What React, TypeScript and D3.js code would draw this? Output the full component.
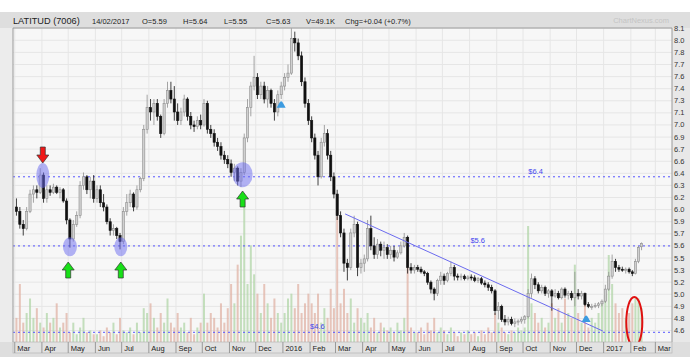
import * as d3 from 'd3';
import React from 'react';

// [open, high, low, close, volume(K)] - roughly 8 bars per month
type Bar = [number, number, number, number, number];

const mar15: Bar[] = [
    [6.05, 6.15, 5.95, 6.0, 500], [6.0, 6.05, 5.8, 5.85, 1200], [5.85, 5.9, 5.72, 5.8, 400], [5.8, 6.05, 5.78, 6.0, 600],
    [6.0, 6.25, 5.98, 6.2, 900], [6.2, 6.3, 6.1, 6.25, 500], [6.25, 6.3, 6.15, 6.22, 700], [6.22, 6.5, 6.2, 6.42, 400],
];
const apr15: Bar[] = [
    [6.42, 6.45, 6.1, 6.15, 300], [6.15, 6.3, 6.1, 6.25, 600], [6.25, 6.3, 6.18, 6.22, 400], [6.22, 6.32, 6.2, 6.28, 500],
    [6.28, 6.3, 6.2, 6.22, 800], [6.22, 6.28, 6.15, 6.25, 300], [6.25, 6.27, 6.1, 6.12, 400], [6.12, 6.15, 5.85, 5.9, 600],
];
const may15: Bar[] = [
    [5.9, 5.92, 5.58, 5.68, 200], [5.68, 5.9, 5.65, 5.85, 400], [5.85, 6.0, 5.82, 5.95, 160], [5.95, 6.35, 5.92, 6.3, 300],
    [6.3, 6.45, 6.25, 6.4, 500], [6.4, 6.42, 6.2, 6.25, 200], [6.25, 6.4, 6.15, 6.35, 240], [6.35, 6.42, 6.1, 6.15, 160],
];
const jun15: Bar[] = [
    [6.15, 6.3, 6.1, 6.25, 160], [6.25, 6.3, 6.05, 6.1, 240], [6.1, 6.2, 6.0, 6.05, 120], [6.05, 6.08, 5.85, 5.88, 300],
    [5.88, 5.92, 5.72, 5.78, 200], [5.78, 5.85, 5.72, 5.8, 400], [5.8, 5.82, 5.68, 5.72, 160], [5.72, 5.75, 5.56, 5.65, 500],
];
const jul15: Bar[] = [
    [5.65, 6.05, 5.62, 6.0, 240], [6.0, 6.2, 5.95, 6.1, 200], [6.1, 6.25, 6.05, 6.2, 300], [6.2, 6.22, 6.0, 6.05, 160],
    [6.05, 6.3, 6.02, 6.25, 400], [6.25, 6.4, 6.22, 6.38, 200], [6.38, 7.0, 6.35, 6.95, 700], [6.95, 7.35, 6.9, 7.2, 600],
];
const aug15: Bar[] = [
    [7.2, 7.3, 7.05, 7.15, 800], [7.15, 7.3, 7.0, 7.25, 500], [7.25, 7.3, 7.05, 7.1, 300], [7.1, 7.12, 6.85, 6.9, 600],
    [6.9, 7.3, 6.88, 7.25, 400], [7.25, 7.5, 7.2, 7.4, 900], [7.4, 7.5, 7.25, 7.3, 400], [7.3, 7.45, 7.05, 7.15, 300],
];
const sep15: Bar[] = [
    [7.15, 7.25, 7.0, 7.05, 600], [7.05, 7.2, 7.0, 7.15, 300], [7.15, 7.35, 7.1, 7.3, 400], [7.3, 7.32, 7.05, 7.1, 200],
    [7.1, 7.15, 6.95, 7.0, 500], [7.0, 7.05, 6.92, 6.98, 160], [6.98, 7.1, 6.95, 7.05, 300], [7.05, 7.12, 6.95, 7.0, 400],
];
const oct15: Bar[] = [
    [7.0, 7.3, 6.98, 7.25, 1000], [7.25, 7.28, 6.9, 6.95, 400], [6.95, 7.0, 6.85, 6.9, 600], [6.9, 6.95, 6.75, 6.8, 500],
    [6.8, 6.85, 6.7, 6.75, 300], [6.75, 6.8, 6.6, 6.65, 800], [6.65, 6.7, 6.55, 6.6, 400], [6.6, 6.65, 6.5, 6.55, 700],
];
const nov15: Bar[] = [
    [6.55, 6.6, 6.4, 6.45, 1200], [6.45, 6.55, 6.35, 6.5, 800], [6.5, 6.52, 6.3, 6.35, 1600], [6.35, 6.5, 6.28, 6.45, 2200],
    [6.45, 6.9, 6.42, 6.85, 2900], [6.85, 7.3, 6.8, 7.2, 1200], [7.2, 7.5, 7.1, 7.45, 2000], [7.45, 7.8, 7.4, 7.55, 1400],
];
const dec15: Bar[] = [
    [7.55, 7.6, 7.3, 7.35, 1000], [7.35, 7.5, 7.3, 7.45, 600], [7.45, 7.5, 7.25, 7.3, 1200], [7.3, 7.45, 7.2, 7.4, 800],
    [7.4, 7.42, 7.2, 7.25, 500], [7.25, 7.3, 7.05, 7.15, 900], [7.15, 7.4, 7.1, 7.35, 600], [7.35, 7.5, 7.3, 7.45, 400],
];
const jan16: Bar[] = [
    [7.45, 7.6, 7.4, 7.55, 600], [7.55, 7.7, 7.5, 7.6, 900], [7.6, 8.12, 7.58, 8.0, 1000], [8.0, 8.08, 7.85, 7.95, 700],
    [7.95, 8.0, 7.75, 7.8, 1200], [7.8, 7.85, 7.45, 7.5, 600], [7.5, 7.55, 7.2, 7.25, 800], [7.25, 7.3, 7.0, 7.05, 1000],
];
const feb16: Bar[] = [
    [7.05, 7.1, 6.8, 6.85, 800], [6.85, 6.9, 6.6, 6.65, 600], [6.65, 6.7, 6.3, 6.4, 1000], [6.4, 6.85, 6.38, 6.8, 400],
    [6.8, 7.0, 6.75, 6.9, 700], [6.9, 6.95, 6.6, 6.65, 500], [6.65, 6.7, 6.35, 6.4, 1100], [6.4, 6.45, 6.15, 6.2, 700],
];
const mar16: Bar[] = [
    [6.2, 6.25, 5.9, 5.95, 2600], [5.95, 6.0, 5.7, 5.75, 800], [5.75, 5.8, 5.3, 5.4, 1100], [5.4, 5.45, 5.2, 5.35, 600],
    [5.35, 5.8, 5.32, 5.75, 900], [5.75, 5.95, 5.7, 5.85, 400], [5.85, 5.88, 5.25, 5.35, 700], [5.35, 5.45, 5.28, 5.4, 500],
];
const apr16: Bar[] = [
    [5.4, 5.5, 5.3, 5.45, 400], [5.45, 5.9, 5.42, 5.8, 600], [5.8, 5.95, 5.55, 5.6, 300], [5.6, 5.7, 5.45, 5.5, 500],
    [5.5, 5.68, 5.45, 5.62, 200], [5.62, 5.65, 5.48, 5.55, 400], [5.55, 5.65, 5.45, 5.58, 300], [5.58, 5.62, 5.45, 5.5, 240],
];
const may16: Bar[] = [
    [5.5, 5.6, 5.45, 5.55, 300], [5.55, 5.6, 5.42, 5.47, 200], [5.47, 5.55, 5.45, 5.52, 400], [5.52, 5.65, 5.5, 5.6, 240],
    [5.6, 5.75, 5.58, 5.7, 500], [5.7, 5.72, 5.28, 5.35, 1800], [5.35, 5.4, 5.28, 5.32, 300], [5.32, 5.38, 5.28, 5.35, 200],
];
const jun16: Bar[] = [
    [5.35, 5.38, 5.3, 5.33, 200], [5.33, 5.36, 5.28, 5.3, 300], [5.3, 5.32, 5.25, 5.28, 160], [5.28, 5.3, 5.15, 5.18, 400],
    [5.18, 5.2, 5.05, 5.1, 240], [5.1, 5.12, 4.97, 5.05, 500], [5.05, 5.22, 5.02, 5.2, 200], [5.2, 5.3, 5.15, 5.25, 300],
];
const jul16: Bar[] = [
    [5.25, 5.28, 5.15, 5.2, 240], [5.2, 5.3, 5.18, 5.28, 160], [5.28, 5.42, 5.25, 5.35, 300], [5.35, 5.38, 5.2, 5.25, 200],
    [5.25, 5.28, 5.2, 5.24, 120], [5.24, 5.28, 5.2, 5.25, 200], [5.25, 5.27, 5.2, 5.22, 160], [5.22, 5.26, 5.2, 5.24, 240],
];
const aug16: Bar[] = [
    [5.24, 5.27, 5.2, 5.23, 160], [5.23, 5.26, 5.18, 5.2, 200], [5.2, 5.24, 5.17, 5.22, 120], [5.22, 5.24, 5.15, 5.17, 240],
    [5.17, 5.2, 5.12, 5.15, 160], [5.15, 5.18, 5.08, 5.12, 300], [5.12, 5.15, 5.05, 5.08, 200], [5.08, 5.1, 4.8, 4.85, 600],
];
const sep16: Bar[] = [
    [4.85, 4.95, 4.75, 4.9, 400], [4.9, 4.92, 4.72, 4.75, 300], [4.75, 4.8, 4.68, 4.72, 200], [4.72, 4.78, 4.68, 4.75, 160],
    [4.75, 4.78, 4.68, 4.7, 240], [4.7, 4.76, 4.66, 4.72, 200], [4.72, 4.75, 4.68, 4.73, 300], [4.73, 4.78, 4.7, 4.75, 240],
];
const oct16: Bar[] = [
    [4.75, 4.8, 4.7, 4.78, 300], [4.78, 5.1, 4.76, 5.05, 2400], [5.05, 5.28, 5.0, 5.22, 800], [5.22, 5.25, 5.1, 5.15, 600],
    [5.15, 5.18, 5.05, 5.08, 400], [5.08, 5.15, 5.05, 5.12, 500], [5.12, 5.14, 5.02, 5.05, 300], [5.05, 5.1, 5.0, 5.08, 400],
];
const nov16: Bar[] = [
    [5.08, 5.1, 4.85, 5.02, 800], [5.02, 5.1, 5.0, 5.05, 500], [5.05, 5.08, 4.98, 5.0, 700], [5.0, 5.12, 4.98, 5.1, 400],
    [5.1, 5.12, 5.0, 5.03, 900], [5.03, 5.08, 4.98, 5.05, 600], [5.05, 5.08, 4.97, 5.0, 500], [5.0, 5.3, 4.9, 5.05, 1600],
];
const dec16: Bar[] = [
    [5.05, 5.1, 4.98, 5.02, 600], [5.02, 5.08, 4.98, 5.05, 400], [5.05, 5.06, 4.9, 4.92, 900], [4.92, 4.95, 4.88, 4.9, 300],
    [4.9, 4.93, 4.86, 4.9, 500], [4.9, 4.94, 4.88, 4.91, 400], [4.91, 4.95, 4.88, 4.93, 600], [4.93, 4.98, 4.9, 4.96, 800],
];
const jan17: Bar[] = [
    [4.96, 5.15, 4.94, 5.1, 1000], [5.1, 5.3, 5.08, 5.25, 1800], [5.25, 5.5, 5.22, 5.42, 1200], [5.42, 5.45, 5.3, 5.35, 800],
    [5.35, 5.38, 5.3, 5.33, 600], [5.33, 5.36, 5.3, 5.32, 700], [5.32, 5.35, 5.28, 5.33, 500], [5.33, 5.35, 5.28, 5.3, 600],
];
const feb17: Bar[] = [
    [5.3, 5.32, 5.25, 5.28, 800], [5.28, 5.45, 5.27, 5.42, 900], [5.42, 5.6, 5.4, 5.58, 900], [5.59, 5.64, 5.55, 5.63, 700],
];

const monthBars: Bar[][] = [
    mar15, apr15, may15, jun15, jul15, aug15, sep15, oct15, nov15, dec15, jan16, feb16,
    mar16, apr16, may16, jun16, jul16, aug16, sep16, oct16, nov16, dec16, jan17, feb17,
];

const priceTicks = [
    4.62, 4.76, 4.9, 5.04, 5.18, 5.32, 5.46, 5.6, 5.74, 5.88, 6.02, 6.16, 6.3,
    6.44, 6.58, 6.72, 6.86, 7.0, 7.14, 7.28, 7.42, 7.56, 7.7, 7.84, 7.98, 8.12,
];

const headerItems = ['14/02/2017', 'O=5.59', 'H=5.64', 'L=5.55', 'C=5.63', 'V=49.1K', 'Chg=+0.04 (+0.7%)'];
const headerX = [92, 142, 183, 224, 266, 306, 345];

const levelLines = [
    { price: 6.4, label: '$6.4', at: new Date(2016, 9, 7) },
    { price: 5.6, label: '$5.6', at: new Date(2016, 7, 2) },
    { price: 4.6, label: '$4.6', at: new Date(2016, 1, 1) },
];

const circles = [
    { date: new Date(2015, 3, 2), price: 6.415, rx: 6.5, ry: 12.5 },
    { date: new Date(2015, 4, 3), price: 5.59, rx: 7, ry: 9.5 },
    { date: new Date(2015, 5, 30), price: 5.59, rx: 6.5, ry: 9.5 },
    { date: new Date(2015, 10, 16), price: 6.425, rx: 10, ry: 12.5 },
];
const upArrows = [new Date(2015, 4, 1), new Date(2015, 5, 30), new Date(2015, 10, 16)];
const downArrows = [new Date(2015, 3, 2)];
const markers = [
    { date: new Date(2015, 11, 30), price: 7.24 },
    { date: new Date(2016, 11, 12), price: 4.76 },
];
const trendLine = [
    { date: new Date(2016, 2, 12), price: 5.97 },
    { date: new Date(2016, 11, 31), price: 4.615 },
];
const highlight = { date: new Date(2017, 1, 5), price: 4.72 };

const lastDate = new Date(2017, 1, 15);
const FONT = '"Liberation Sans", Arial, sans-serif';

const App: React.FC = () => {
    const plot = { left: 13, right: 672, top: 28, bottom: 342 };

    const x = d3.scaleTime()
        .domain([new Date(2015, 1, 27), new Date(2017, 2, 20)])
        .range([plot.left, plot.right]);
    const y = d3.scaleLinear().domain([4.6, 8.12]).range([332.3, 28.2]);
    const yVol = d3.scaleLinear().domain([0, 3000]).range([plot.bottom, plot.bottom - 145]);

    // spread each month's bars evenly across that month
    const candles = monthBars.flatMap((bars, mi) => {
        const start = d3.timeMonth.offset(new Date(2015, 2, 1), mi);
        const end = mi < monthBars.length - 1 ? d3.timeMonth.offset(start, 1) : lastDate;
        return bars.map((b, i) => ({
            date: new Date(+start + ((i + 0.5) / bars.length) * (+end - +start)),
            open: b[0], high: b[1], low: b[2], close: b[3], volume: b[4],
        }));
    });

    const monthTicks = d3.timeMonth.range(new Date(2015, 2, 1), new Date(2017, 2, 2));
    const fmtMonth = (d: Date) => (d.getMonth() === 0 ? String(d.getFullYear()) : d3.timeFormat('%b')(d));

    const bw = 2.2;

    return (
        <svg width={697} height={364} style={{ position: 'absolute', left: 0, top: 0, fontFamily: FONT }}>
            <rect x={0} y={0} width={697} height={364} fill="#fff" />
            <rect x={0} y={12} width={690} height={345} fill="#dedede" />
            <rect x={0} y={plot.top} width={plot.left} height={plot.bottom - plot.top} fill="#ececec" />
            <rect x={plot.right} y={plot.top} width={18} height={plot.bottom - plot.top} fill="#e8e8e8" />

            {/* header */}
            <text x={13} y={23.5} fontSize={9.2} fill="#222">LATITUD (7006)</text>
            {headerItems.map((t, i) => (
                <text key={t} x={headerX[i]} y={23.5} fontSize={7.5} fill="#222">{t}</text>
            ))}
            <text x={669} y={23} fontSize={7.5} fill="#c4c4c4" textAnchor="end">ChartNexus.com</text>

            {/* plot background and grid */}
            <rect x={plot.left} y={plot.top} width={plot.right - plot.left} height={plot.bottom - plot.top} fill="#f7f7f7" />
            {priceTicks.map((t) => (
                <line key={t} x1={plot.left} x2={plot.right} y1={y(t)} y2={y(t)} stroke="#e6e6e6" />
            ))}
            {monthTicks.map((d) => (
                <line key={+d} x1={x(d)} x2={x(d)} y1={plot.top} y2={plot.bottom} stroke="#e6e6e6" />
            ))}

            {/* volume */}
            {candles.map((c, i) => (
                <rect key={'v' + i} x={x(c.date) - 1} width={2} y={yVol(c.volume)} height={plot.bottom - yVol(c.volume)}
                    fill={c.close >= c.open ? '#b2d5a8' : '#e0b3a6'} opacity={0.75} />
            ))}

            {/* level lines */}
            {levelLines.map((l) => (
                <g key={l.label}>
                    <line x1={plot.left} x2={plot.right} y1={y(l.price)} y2={y(l.price)} stroke="#5555ff" strokeDasharray="2,3" />
                    <text x={x(l.at)} y={y(l.price) - 3} fontSize={7.5} fill="#4444ee">{l.label}</text>
                </g>
            ))}

            {/* candles */}
            {candles.map((c, i) => {
                const up = c.close >= c.open;
                const cx = x(c.date);
                const top = y(Math.max(c.open, c.close));
                const h = Math.max(1, y(Math.min(c.open, c.close)) - top);
                const col = up ? '#8e8e8e' : '#111';
                return (
                    <g key={'c' + i}>
                        <line x1={cx} x2={cx} y1={y(c.high)} y2={y(c.low)} stroke={col} strokeWidth={0.8} />
                        <rect x={cx - bw / 2} y={top} width={bw} height={h} fill={up ? '#d0d0d0' : '#111'} stroke={col} strokeWidth={0.6} />
                    </g>
                );
            })}

            {/* trend line */}
            <line x1={x(trendLine[0].date)} y1={y(trendLine[0].price)} x2={x(trendLine[1].date)} y2={y(trendLine[1].price)}
                stroke="#6a6aee" strokeWidth={1} />

            {/* annotations */}
            {circles.map((c, i) => (
                <ellipse key={'e' + i} cx={x(c.date)} cy={y(c.price)} rx={c.rx} ry={c.ry} fill="#6a6af0" opacity={0.5} />
            ))}
            {downArrows.map((d, i) => {
                const cx = x(d);
                const t = 147;
                return (
                    <path key={'da' + i} d={`M${cx - 2.5},${t}h5v8h3.5l-6,8l-6,-8h3.5z`} fill="#f01818" stroke="#333" strokeWidth={0.7} />
                );
            })}
            {upArrows.map((d, i) => {
                const cx = x(d);
                const t = i === 2 ? 191 : 262;
                return (
                    <path key={'ua' + i} d={`M${cx},${t}l6,8h-3.5v8h-5v-8h-3.5z`} fill="#18e018" stroke="#333" strokeWidth={0.7} />
                );
            })}
            {markers.map((m, i) => {
                const cx = x(m.date);
                const cy = y(m.price);
                return (
                    <path key={'m' + i} d={`M${cx - 4.5},${cy + 3.5}L${cx - 2},${cy - 1}Q${cx},${cy - 5} ${cx + 2},${cy - 1}L${cx + 4.5},${cy + 3.5}z`}
                        fill="#3c9be0" />
                );
            })}
            <ellipse cx={x(highlight.date)} cy={y(highlight.price)} rx={8} ry={25} fill="none" stroke="#e01010" strokeWidth={2} />

            {/* plot frame */}
            <path d={`M${plot.left},${plot.bottom}V${plot.top}H${plot.right}V${plot.bottom}`} fill="none" stroke="#9a9a9a" />

            {/* price axis */}
            {priceTicks.map((t) => (
                <text key={'t' + t} x={674} y={y(t)} dominantBaseline="central" fontSize={7.5} fill="#333">{t.toFixed(1)}</text>
            ))}

            {/* month axis */}
            <rect x={plot.left} y={plot.bottom} width={plot.right - plot.left} height={11} fill="#e2e2e2" stroke="#b0b0b0" strokeWidth={0.6} />
            {monthTicks.map((d) => (
                <g key={'mt' + +d}>
                    <line x1={x(d)} x2={x(d)} y1={plot.bottom} y2={plot.bottom + 11} stroke="#999" />
                    <text x={x(d) + 2.5} y={plot.bottom + 8.5} fontSize={7.5} fill="#222">{fmtMonth(d)}</text>
                </g>
            ))}
        </svg>
    );
};

export default App;
